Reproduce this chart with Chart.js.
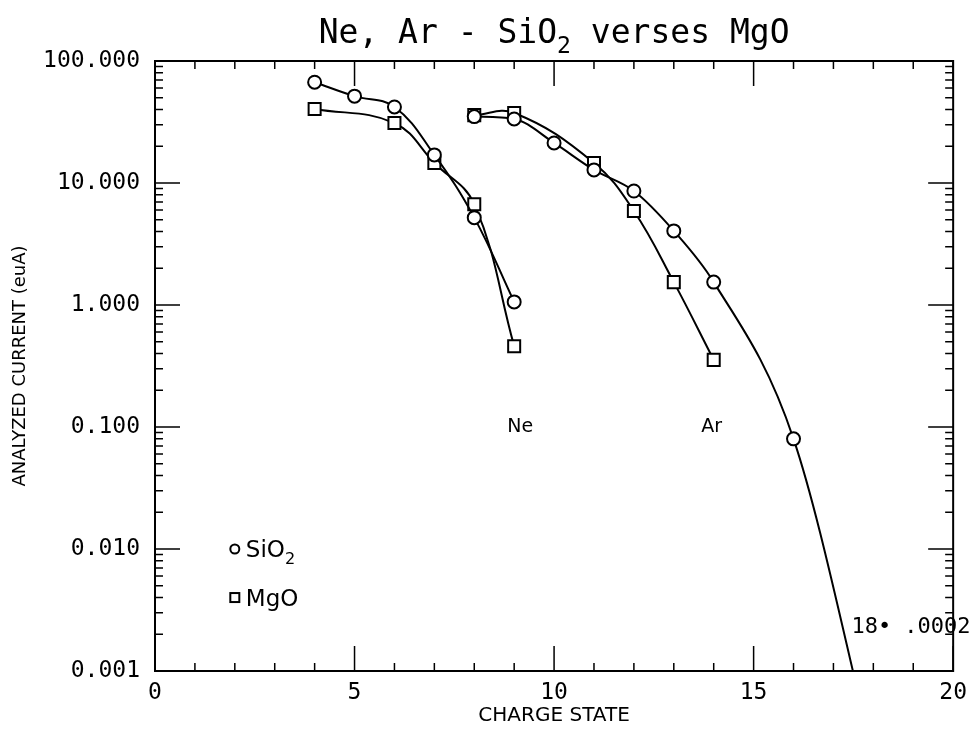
<!DOCTYPE html>
<html>
<head>
<meta charset="utf-8">
<script src="https://cdn.jsdelivr.net/npm/chart.js@4.4.1/dist/chart.umd.min.js"></script>
<style>
  html, body { margin: 0; padding: 0; background: #fff; }
  #wrap { width: 975px; height: 730px; }
</style>
</head>
<body>
<div id="wrap"><canvas id="chart" width="975" height="730"></canvas></div>
<script>
// charge states and currents (euA)
const chargeNeSiO2 = [4, 5, 6, 7, 8, 9];
const neSiO2 = [67, 51.5, 42, 17, 5.2, 1.06];
const chargeNeMgO = [4, 6, 7, 8, 9];
const neMgO = [40.5, 31, 14.6, 6.7, 0.46];
const chargeArSiO2 = [8, 9, 10, 11, 12, 13, 14, 16, 18];
const arSiO2 = [35, 33.5, 21.3, 12.8, 8.6, 4.05, 1.54, 0.08, 0.0002];
const chargeArMgO = [8, 9, 11, 12, 13, 14];
const arMgO = [36, 37.5, 14.6, 5.9, 1.54, 0.355];

const xTicks = [0, 5, 10, 15, 20];
const xTickLabels = ["0", "5", "10", "15", "20"];
const yTicks = [0.001, 0.01, 0.1, 1, 10, 100];
const yTickLabels = ["0.001", "0.010", "0.100", "1.000", "10.000", "100.000"];

const MONO = "'DejaVu Sans Mono', monospace";
const SANS = "'DejaVu Sans', sans-serif";

function toPoints(xs, ys) {
  return xs.map((x, i) => ({ x: x, y: ys[i] }));
}

function series(xs, ys, style, mode) {
  return {
    data: toPoints(xs, ys),
    borderColor: "#000",
    borderWidth: 2,
    pointStyle: style,
    pointRadius: style === "rect" ? 8.5 : 6.5,
    pointHoverRadius: style === "rect" ? 8.5 : 6.5,
    pointBackgroundColor: "#fff",
    pointBorderColor: "#000",
    pointBorderWidth: 2,
    cubicInterpolationMode: mode || "default",
    tension: 0.4,
    fill: false
  };
}

// text with a subscript part, e.g. SiO + 2
function drawRich(ctx, parts, x, y, size, family, align) {
  const widths = parts.map(p => {
    ctx.font = (p.sub ? size * 0.7 : size) + "px " + family;
    return ctx.measureText(p.t).width;
  });
  const total = widths.reduce((s, w) => s + w, 0);
  let cx = align === "center" ? x - total / 2 : x;
  ctx.textAlign = "left";
  ctx.textBaseline = "alphabetic";
  parts.forEach((p, i) => {
    ctx.font = (p.sub ? size * 0.7 : size) + "px " + family;
    ctx.fillText(p.t, cx, p.sub ? y + size * 0.3 : y);
    cx += widths[i];
  });
}

const frameTicks = {
  id: "frameTicks",
  afterDatasetsDraw(chart) {
    const { ctx, chartArea: a, scales: { x, y } } = chart;
    ctx.save();
    ctx.strokeStyle = "#000";
    ctx.lineWidth = 2;
    ctx.strokeRect(a.left, a.top, a.right - a.left, a.bottom - a.top);
    ctx.lineWidth = 1.5;
    ctx.beginPath();
    for (let v = x.min; v <= x.max; v++) {
      const px = x.getPixelForValue(v);
      const len = v % 5 === 0 ? 25 : 8;
      ctx.moveTo(px, a.bottom); ctx.lineTo(px, a.bottom - len);
      ctx.moveTo(px, a.top); ctx.lineTo(px, a.top + len);
    }
    for (let d = -3; d <= 2; d++) {
      for (let k = 1; k <= 9; k++) {
        const v = k * Math.pow(10, d);
        if (v > y.max * 1.0001) break;
        const py = y.getPixelForValue(v);
        const len = k === 1 ? 25 : 8;
        ctx.moveTo(a.left, py); ctx.lineTo(a.left + len, py);
        ctx.moveTo(a.right, py); ctx.lineTo(a.right - len, py);
      }
    }
    ctx.stroke();
    ctx.restore();
  },
  afterDraw(chart) {
    const { ctx, chartArea: a, scales: { x, y } } = chart;
    ctx.save();
    ctx.fillStyle = "#000";

    drawRich(ctx, [{ t: "Ne, Ar - SiO" }, { t: "2", sub: true }, { t: " verses MgO" }],
      (a.left + a.right) / 2, 43, 33, MONO, "center");

    // element labels
    ctx.font = "19px " + SANS;
    ctx.textAlign = "center";
    ctx.textBaseline = "middle";
    ctx.fillText("Ne", x.getPixelForValue(9.15), y.getPixelForValue(0.1));
    ctx.fillText("Ar", x.getPixelForValue(13.95), y.getPixelForValue(0.1));

    // off-scale note
    ctx.font = "22px " + MONO;
    ctx.textAlign = "left";
    ctx.fillText("18\u2022 .0002", x.getPixelForValue(17.45), y.getPixelForValue(0.0023));

    // legend
    ctx.strokeStyle = "#000";
    ctx.lineWidth = 2;
    const lx = x.getPixelForValue(2);
    const ly1 = y.getPixelForValue(0.01);
    const ly2 = y.getPixelForValue(0.004);
    ctx.beginPath();
    ctx.arc(lx, ly1, 4.5, 0, Math.PI * 2);
    ctx.stroke();
    ctx.strokeRect(lx - 4.5, ly2 - 4.5, 9, 9);
    drawRich(ctx, [{ t: "SiO" }, { t: "2", sub: true }], lx + 11, ly1 + 8, 23, SANS, "left");
    drawRich(ctx, [{ t: "MgO" }], lx + 11, ly2 + 8, 23, SANS, "left");
    ctx.restore();
  }
};

new Chart(document.getElementById("chart"), {
  type: "line",
  data: {
    datasets: [
      series(chargeNeSiO2, neSiO2, "circle"),
      series(chargeNeMgO, neMgO, "rect"),
      series(chargeArSiO2, arSiO2, "circle", "monotone"),
      series(chargeArMgO, arMgO, "rect")
    ]
  },
  options: {
    responsive: false,
    animation: false,
    events: [],
    layout: { padding: { top: 61, right: 20, left: 0, bottom: 0 } },
    elements: { line: { capBezierPoints: false } },
    plugins: { legend: { display: false }, tooltip: { enabled: false } },
    scales: {
      x: {
        type: "linear",
        min: 0,
        max: 20,
        afterBuildTicks: scale => { scale.ticks = xTicks.map(v => ({ value: v })); },
        afterFit: scale => { scale.height = 59; },
        grid: { display: false, drawTicks: false },
        border: { display: false },
        ticks: {
          color: "#000",
          padding: 8,
          maxRotation: 0,
          font: { family: MONO, size: 23 },
          callback: (v, i) => xTickLabels[i]
        },
        title: {
          display: true,
          text: "CHARGE STATE",
          color: "#000",
          font: { family: SANS, size: 20 },
          padding: { top: 0, bottom: 2 }
        }
      },
      y: {
        type: "logarithmic",
        min: 0.001,
        max: 100,
        afterBuildTicks: scale => { scale.ticks = yTicks.map(v => ({ value: v })); },
        afterFit: scale => { scale.width = 155; },
        grid: { display: false, drawTicks: false },
        border: { display: false },
        ticks: {
          color: "#000",
          padding: 15,
          font: { family: MONO, size: 23 },
          callback: (v, i) => yTickLabels[i]
        },
        title: {
          display: true,
          text: "ANALYZED CURRENT (euA)",
          color: "#000",
          font: { family: SANS, size: 18 },
          padding: { top: 10, bottom: 0 }
        }
      }
    }
  },
  plugins: [frameTicks]
});
</script>
</body>
</html>
